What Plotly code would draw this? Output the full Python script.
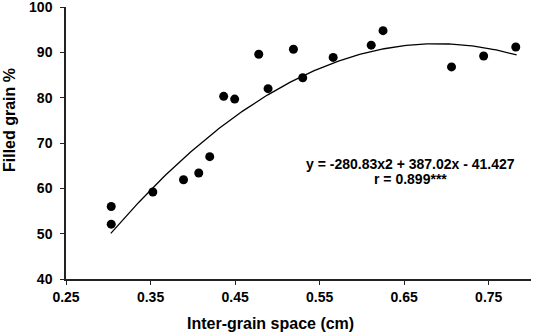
import numpy as np
import plotly.graph_objects as go

# Data
inter_grain_space = [0.3035, 0.3035, 0.3527, 0.389, 0.407, 0.420, 0.4365, 0.4495,
                     0.478, 0.489, 0.519, 0.530, 0.566, 0.611, 0.625, 0.706, 0.744, 0.782]
filled_grain = [56.0, 52.1, 59.2, 61.9, 63.4, 67.0, 80.3, 79.7,
                89.6, 82.0, 90.7, 84.4, 88.9, 91.6, 94.8, 86.8, 89.2, 91.2]

# Quadratic trendline coefficients (shown in equation)
coef_a, coef_b, coef_c = -280.83, 387.02, -41.427
trend_range = [0.303, 0.783]

x_ticks = [0.25, 0.35, 0.45, 0.55, 0.65, 0.75]
x_tick_labels = ["0.25", "0.35", "0.45", "0.55", "0.65", "0.75"]
y_ticks = [40, 50, 60, 70, 80, 90, 100]

eq_text = "y = -280.83x2 + 387.02x - 41.427"
r_text = "r = 0.899***"

xs = np.linspace(trend_range[0], trend_range[1], 200)
ys = coef_a * xs**2 + coef_b * xs + coef_c

font_family = "Arial, Liberation Sans, sans-serif"

L, R, T, B = 66, 531, 7, 279  # plot area in pixels

fig = go.Figure()
fig.add_trace(go.Scatter(x=xs, y=ys, mode="lines",
                         line=dict(color="black", width=1.3),
                         hoverinfo="skip", showlegend=False))
fig.add_trace(go.Scatter(x=inter_grain_space, y=filled_grain, mode="markers",
                         marker=dict(color="black", size=9),
                         showlegend=False))

fig.update_layout(
    width=533, height=334,
    margin=dict(l=L, r=533 - R, t=T, b=334 - B, autoexpand=False),
    plot_bgcolor="white", paper_bgcolor="white",
    font=dict(family=font_family, color="black", size=14, weight="bold"),
)
fig.update_xaxes(range=[0.25, 0.80], tickvals=x_ticks, ticktext=x_tick_labels,
                 showgrid=False, zeroline=False, showline=True, linecolor="#222",
                 linewidth=1.5, ticks="outside", ticklen=4, tickwidth=1.2,
                 tickcolor="#222", automargin=False, ticklabeloverflow="allow",
                 tickfont=dict(family=font_family, size=14, weight="bold"))
fig.update_yaxes(range=[40, 100.02], tickvals=y_ticks,
                 showgrid=False, zeroline=False, showline=True, linecolor="#222",
                 linewidth=1.5, ticks="outside", ticklen=4, tickwidth=1.2,
                 tickcolor="#222", automargin=False, ticklabeloverflow="allow",
                 ticklabelstandoff=5,
                 tickfont=dict(family=font_family, size=14, weight="bold"))

fig.add_annotation(xref="x domain", yref="y domain",
                   x=(270 - L) / (R - L), y=(B - 323) / (B - T),
                   xanchor="center", yanchor="middle",
                   text="Inter-grain space (cm)", showarrow=False,
                   font=dict(family=font_family, size=16, weight="bold"))
fig.add_annotation(xref="x domain", yref="y domain", x=(10 - L) / (R - L),
                   y=(B - 120) / (B - T), xanchor="center", yanchor="middle",
                   text="Filled grain %", textangle=-90,
                   showarrow=False, font=dict(family=font_family, size=16, weight="bold"))
fig.add_annotation(x=0.657, y=65.3, text=eq_text, showarrow=False,
                   xanchor="center", yanchor="middle",
                   font=dict(family=font_family, size=14, weight="bold"))
fig.add_annotation(x=0.657, y=62.0, text=r_text, showarrow=False,
                   xanchor="center", yanchor="middle",
                   font=dict(family=font_family, size=14, weight="bold"))

fig.write_html("out.html", config={"displayModeBar": False},
               post_script="document.body.style.margin='0px';")
